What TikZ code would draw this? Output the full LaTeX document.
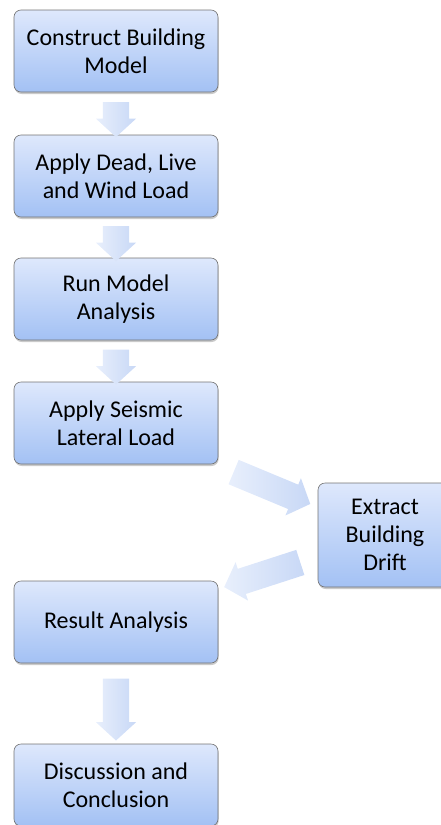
\documentclass[tikz,border=0pt]{standalone}
\usepackage{fontspec}
\setmainfont{Carlito}
\usetikzlibrary{shapes.arrows,shadows}
\definecolor{boxtop}{RGB}{222,232,252}
\definecolor{boxbot}{RGB}{163,193,244}
\definecolor{arrowtail}{RGB}{232,239,252}
\definecolor{arrowtip}{RGB}{200,216,246}

\tikzset{
  stagebox/.style={rectangle, rounded corners=7pt, draw=black!55, line width=0.6pt,
    top color=boxtop, bottom color=boxbot, minimum width=204pt, minimum height=82pt,
    align=center, font=\fontsize{24}{28}\selectfont,
    drop shadow={shadow xshift=0.6pt, shadow yshift=-2pt, opacity=0.35, fill=black!60}},
  blockarrow/.style={single arrow, sloped, allow upside down, draw=none,
    inner xsep=0pt, inner ysep=13pt,
    left color=arrowtail, right color=arrowtip,
    single arrow head extend=7pt, single arrow tip angle=95}
}

\begin{document}
\begin{tikzpicture}[x=1pt,y=-1pt]
      \useasboundingbox (0,0) rectangle (440,825);

      % Main stages
      \node[stagebox] (construct) at (116,51) {Construct Building\\Model};
      \node[stagebox] (loads) at (116,176) {Apply Dead, Live\\and Wind Load};
      \node[stagebox] (runmodel) at (116,299) {Run Model\\Analysis};
      \node[stagebox] (seismic) at (116,423) {Apply Seismic\\Lateral Load};
      \node[stagebox, minimum width=134pt, minimum height=104pt] (drift) at (385,535) {Extract\\Building\\Drift};
      \node[stagebox] (result) at (116,622) {Result Analysis};
      \node[stagebox] (discussion) at (116,785) {Discussion and\\Conclusion};

      % Block arrows between stages
      \path (construct) -- node[blockarrow, minimum height=35pt] (a1) {} (loads);
      \path (loads) -- node[blockarrow, minimum height=35pt] (a2) {} (runmodel);
      \path (runmodel) -- node[blockarrow, minimum height=35pt] (a3) {} (seismic);
      \path (seismic) -- node[blockarrow, minimum height=83pt] (a4) {} (drift);
      \path (drift) -- node[blockarrow, minimum height=80pt] (a5) {} (result);
      \path (result) -- node[blockarrow, minimum height=62pt] (a6) {} (discussion);
\end{tikzpicture}
\end{document}
